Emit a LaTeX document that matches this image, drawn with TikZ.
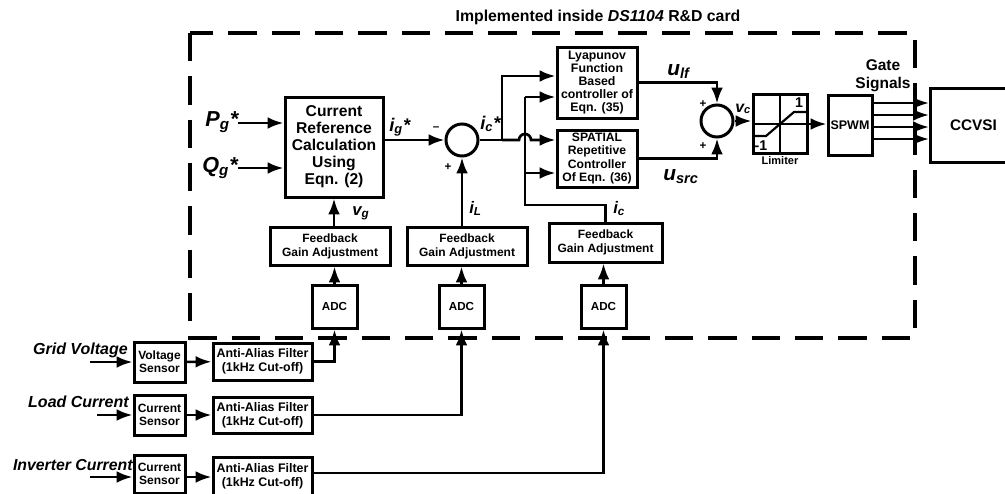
\documentclass[tikz,border=0pt]{standalone}
\usepackage{fontspec}
\setmainfont{Liberation Sans}
\usetikzlibrary{arrows.meta}

\begin{document}
\begin{tikzpicture}[x=0.6pt, y=-0.6pt, every node/.style={inner sep=0pt},
    fs/.style 2 args={font=\bfseries\fontsize{#1}{#2}\selectfont},
    sig/.style 2 args={font=\bfseries\itshape\fontsize{#1}{#2}\selectfont},
    sz/.style 2 args={minimum width=#1*0.6pt, minimum height=#2*0.6pt},
    blk/.style={draw, line width=1.8pt, align=center},
    sumc/.style={draw, circle, line width=1.8pt, minimum size=32*0.6pt},
    wire/.style={line width=1.6pt},
    arr/.style={line width=1.6pt, -{Latex[length=9.5pt,width=7pt]}}]
  \path[use as bounding box] (0,0) rectangle (1005,493);
  \clip (0,0) rectangle (1005,493);

  \draw[line width=2.2pt, dash pattern=on 17pt off 9pt] (190,33) rectangle (915,338);
  \node[fs={9.5}{11}] (title) at (598,17) {Implemented inside \textit{DS1104} R\&D card};

  \node[blk, sz={98}{100}, fs={9.4}{10.2}] (cref) at (334,147) {Current\\Reference\\Calculation\\Using\\Eqn. (2)};
  \node[sumc] (sum1) at (462,140) {};
  \node[blk, sz={80}{71}, fs={7.4}{7.9}] (lyap) at (597,82.5) {Lyapunov\\Function\\Based\\controller of\\Eqn. (35)};
  \node[blk, sz={80}{57}, fs={7.3}{7.9}] (src) at (597,158.5) {SPATIAL\\Repetitive\\Controller\\Of Eqn. (36)};
  \node[sumc] (sum2) at (717,121) {};
  \node[blk, sz={54}{59}] (lim) at (780,124) {};
  \node[blk, sz={44}{60}, fs={7.5}{9}] (spwm) at (850,125) {SPWM};
  \node[blk, sz={86}{74}, fs={9.2}{11}, anchor=west] (ccvsi) at (929,125) {CCVSI};

  \node[blk, sz={120}{38}, fs={7.2}{8.3}] (fb1) at (330,246) {Feedback\\Gain Adjustment};
  \node[blk, sz={120}{38}, fs={7.2}{8.3}] (fb2) at (467,246) {Feedback\\Gain Adjustment};
  \node[blk, sz={113}{39}, fs={7.2}{8.1}] (fb3) at (605.5,242.5) {Feedback\\Gain Adjustment};
  \node[blk, sz={45}{43}, fs={7}{8}] (adc1) at (334.5,306.5) {ADC};
  \node[blk, sz={45}{43}, fs={7}{8}] (adc2) at (461.5,306.5) {ADC};
  \node[blk, sz={45}{43}, fs={7}{8}] (adc3) at (603.5,306.5) {ADC};

  \node[blk, sz={51}{40}, fs={7.2}{7.8}] (vs) at (159.5,362) {Voltage\\Sensor};
  \node[blk, sz={99}{37}, fs={7.45}{8.4}] (aa1) at (262.5,361.5) {Anti-Alias Filter\\(1kHz Cut-off)};
  \node[blk, sz={51}{40}, fs={7.2}{7.8}] (cs2) at (159.5,415) {Current\\Sensor};
  \node[blk, sz={99}{36}, fs={7.45}{8.4}] (aa2) at (262.5,415) {Anti-Alias Filter\\(1kHz Cut-off)};
  \node[blk, sz={51}{38}, fs={7.2}{7.8}] (cs3) at (159.5,474) {Current\\Sensor};
  \node[blk, sz={99}{38}, fs={7.45}{8.4}] (aa3) at (262.5,476) {Anti-Alias Filter\\(1kHz Cut-off)};

  \node[sig={9.6}{11}, anchor=east] (gvl) at (128,350) {Grid Voltage};
  \node[sig={9.6}{11}, anchor=east] (lcl) at (129,402) {Load Current};
  \node[sig={9.5}{11}, anchor=east] (icl) at (133,465) {Inverter Current};
  \coordinate (gin) at (90,362);
  \coordinate (lin) at (97,415);
  \coordinate (iin) at (90,477);

  \draw[arr] (gin) -- (vs.west);
  \draw[arr] (lin) -- (cs2.west);
  \draw[arr] (iin) -- (iin -| cs3.west);
  \draw[arr] (vs) -- (aa1);
  \draw[arr] (cs2) -- (aa2);
  \draw[arr] (cs3.east |- iin) -- (aa3.west |- iin);
  \draw[arr] (aa1.east) -| (adc1.south);
  \draw[arr] (aa2.east) -| (adc2.south);
  \draw[arr] (aa3.east |- 0,473) -| (adc3.south);
  \draw[arr] (adc1) -- (fb1.south -| adc1);
  \draw[arr] (adc2) -- (fb2.south -| adc2);
  \draw[arr] (adc3) -- (fb3.south -| adc3);
  \draw[arr] (fb1.north -| cref) -- (cref);
  \draw[arr] (fb2.north -| sum1) -- (sum1);

  \coordinate (pin) at (238,123);
  \coordinate (qin) at (238,168);
  \draw[arr] (pin) -- (pin -| cref.west);
  \draw[arr] (qin) -- (qin -| cref.west);
  \node[sig={13}{15}, anchor=base west] (pl) at (205,126) {P\textsubscript{g}*};
  \node[sig={13}{15}, anchor=base west] (ql) at (202,172) {Q\textsubscript{g}*};

  \draw[arr] (cref.east |- sum1) -- (sum1);
  \coordinate (j1) at (502,140);
  \coordinate (hop) at (519,140);
  \draw[wire] (sum1) -- (j1);
  \draw[arr] (j1) |- (lyap.west |- 0,76);
  \draw[arr] (j1) -- (hop) arc[start angle=180, end angle=0, radius=3.6pt] -- (src.west |- j1);

  \coordinate (k1) at (525,205);
  \coordinate (k2) at (525,173);
  \coordinate (k3) at (525,97);
  \draw[wire] (fb3.north) |- (k1) -- (k3);
  \draw[arr] (k3) -- (k3 -| lyap.west);
  \draw[arr] (k2) -- (k2 -| src.west);

  \draw[arr] (lyap.east) -| (sum2.north);
  \draw[arr] (src.east) -| (sum2.south);
  \draw[arr] (sum2.east) -- (sum2.east -| lim.west);
  \draw[arr] (lim.east) -- (lim.east -| spwm.west);
  \foreach \y in {103,115,127,139}
    \draw[arr] (spwm.east |- 0,\y) -- (ccvsi.west |- 0,\y);

  \draw[line width=1.3pt] (lim.north) -- (lim.south) (lim.west) -- (lim.east);
  \draw[line width=1.3pt] (755,136) -- (766,136) -- (794,112) -- (806,112);
  \node[fs={8.5}{9}] (lp1) at (799,103) {1};
  \node[fs={8.5}{9}] (lm1) at (761,146) {-1};
  \node[fs={6.6}{8}] (limt) at (780,161) {Limiter};

  \node[fs={7}{8}] (m1) at (436,129) {--};
  \node[fs={7}{8}] (p1) at (448,167) {+};
  \node[fs={7}{8}] (p2) at (703,104) {+};
  \node[fs={7}{8}] (p3) at (703,146) {+};

  \node[sig={11}{13}, anchor=base west] (igl) at (389,131) {i\textsubscript{g}*};
  \node[sig={11}{13}, anchor=base west] (icsl) at (480,129) {i\textsubscript{c}*};
  \node[sig={10}{12}, anchor=base west] (vgl) at (352,215) {v\textsubscript{g}};
  \node[sig={10}{12}, anchor=base west] (ill) at (469,213) {i\textsubscript{L}};
  \node[sig={10}{12}, anchor=base west] (icl2) at (613,213) {i\textsubscript{c}};
  \node[sig={12.5}{14}, anchor=base west] (ulf) at (667,75) {u\textsubscript{lf}};
  \node[sig={12.5}{14}, anchor=base west] (usrc) at (663,180) {u\textsubscript{src}};
  \node[sig={9.5}{11}, anchor=base west] (vcl) at (735,112) {v\textsubscript{c}};
  \node[fs={9.3}{10.8}, align=center] (gate) at (883,76) {Gate\\Signals};
\end{tikzpicture}
\end{document}
